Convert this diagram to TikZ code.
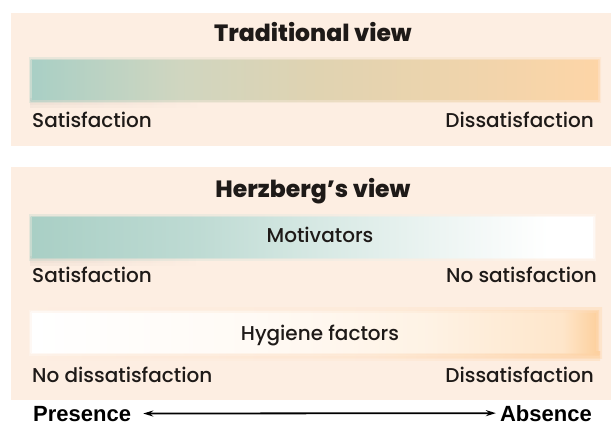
\documentclass[tikz,border=0pt]{standalone}
\usepackage{fontspec}
\setmainfont{Poppins Medium}
\newfontfamily\ttlfont{Poppins ExtraBold}
\newfontfamily\arialfont{Liberation Sans}
\usetikzlibrary{arrows.meta}
\definecolor{panelc}{HTML}{FDEEE2}
\definecolor{bteal}{HTML}{A9CFC5}
\definecolor{borange}{HTML}{FDD5A7}
\definecolor{txt}{HTML}{1E1A18}
\colorlet{shadowc}{panelc!90!black}
\pgfdeclarehorizontalshading{tradsh}{100bp}{color(0bp)=(bteal); color(25bp)=(bteal); color(38bp)=(bteal!60!borange!90!white); color(50bp)=(bteal!35!borange); color(75bp)=(borange); color(100bp)=(borange)}
\pgfdeclarehorizontalshading{motsh}{100bp}{color(0bp)=(bteal); color(25bp)=(bteal); color(40bp)=(bteal!75!white); color(50bp)=(bteal!48!white); color(62bp)=(bteal!20!white); color(71bp)=(white); color(100bp)=(white)}
\pgfdeclarehorizontalshading{hygsh}{100bp}{color(0bp)=(white); color(25bp)=(white); color(45bp)=(borange!12!white); color(60bp)=(borange!30!white); color(72bp)=(borange!60!white); color(75bp)=(borange!95!orange); color(100bp)=(borange)}
\pgfdeclarehorizontalshading{shadsh}{100bp}{color(0bp)=(shadowc); color(25bp)=(shadowc); color(40bp)=(panelc); color(100bp)=(panelc)}
\pgfdeclarehorizontalshading{glowsh}{100bp}{color(0bp)=(panelc); color(25bp)=(panelc); color(55bp)=(borange!40!panelc); color(75bp)=(borange!90!orange); color(100bp)=(borange!90!orange)}
\tikzset{
  lbl/.style={inner sep=0pt, text=txt, font=\fontsize{20}{22}\selectfont},
  ttl/.style={inner sep=0pt, text=txt, font=\ttlfont\fontsize{23.5}{26}\selectfont},
  axl/.style={inner sep=0pt, text=black, font=\arialfont\fontsize{22}{24}\selectfont\bfseries},
  panelbox/.style={fill=panelc, draw=none},
}
\begin{document}
\begin{tikzpicture}[x=1pt,y=-1pt]
\useasboundingbox (0,0) rectangle (611,425);
\fill[white] (0,0) rectangle (611,425);
% panels
\path[panelbox] (11,13) rectangle (611,146);
\path[panelbox] (11,167) rectangle (611,400);
% soft shadows under bars
\foreach \h in {3,6,9}{
  \shade[shading=shadsh, opacity=0.3] (30,99) rectangle (598,99+\h);
  \shade[shading=shadsh, opacity=0.3] (30,256) rectangle (593,256+\h);
  \shade[shading=glowsh, opacity=0.3] (30,351) rectangle (600,351+\h);
}
\foreach \w in {3,6}{
  \shade[shading=glowsh, opacity=0.3] (30,313-\w) rectangle (596+\w,352+\w);
}
% bars with soft edges
\foreach \d/\o in {3/0.25,1.5/0.5}{
  \shade[shading=tradsh, opacity=\o] (32-\d,61-\d) rectangle (598+\d,100+\d);
  \shade[shading=motsh, opacity=\o] (32-\d,218-\d) rectangle (593+\d,257+\d);
  \shade[shading=hygsh, opacity=\o] (32-\d,313-\d) rectangle (596+\d,352+\d);
}
\shade[shading=tradsh] (32,61) rectangle (598,100);
\shade[shading=motsh] (32,218) rectangle (593,257);
\shade[shading=hygsh] (32,313) rectangle (596,352);
% titles
\node[ttl, anchor=base] (t1) at (313,42) {Traditional view};
\node[ttl, anchor=base] (t2) at (313,198) {Herzberg’s view};
% bar labels
\node[lbl, anchor=base] (mot) at (320,243) {Motivators};
\node[lbl, anchor=base] (hyg) at (320,340) {Hygiene factors};
% end labels
\node[lbl, anchor=base west] (s1) at (32,128) {Satisfaction};
\node[lbl, anchor=base east] (d1) at (594,128) {Dissatisfaction};
\node[lbl, anchor=base west] (s2) at (32,282) {Satisfaction};
\node[lbl, anchor=base east] (ns) at (597,282) {No satisfaction};
\node[lbl, anchor=base west] (nd) at (32,382) {No dissatisfaction};
\node[lbl, anchor=base east] (d2) at (594,382) {Dissatisfaction};
% axis
\node[axl, anchor=base west] (pres) at (33,421) {Presence};
\node[axl, anchor=base east] (abs) at (592,421) {Absence};
\draw[line width=1.8pt, {Stealth[length=10pt,width=6pt]}-{Stealth[length=10pt,width=6pt]}, shorten <=12pt, shorten >=4pt] (pres.east) -- (abs.west);
\end{tikzpicture}
\end{document}
